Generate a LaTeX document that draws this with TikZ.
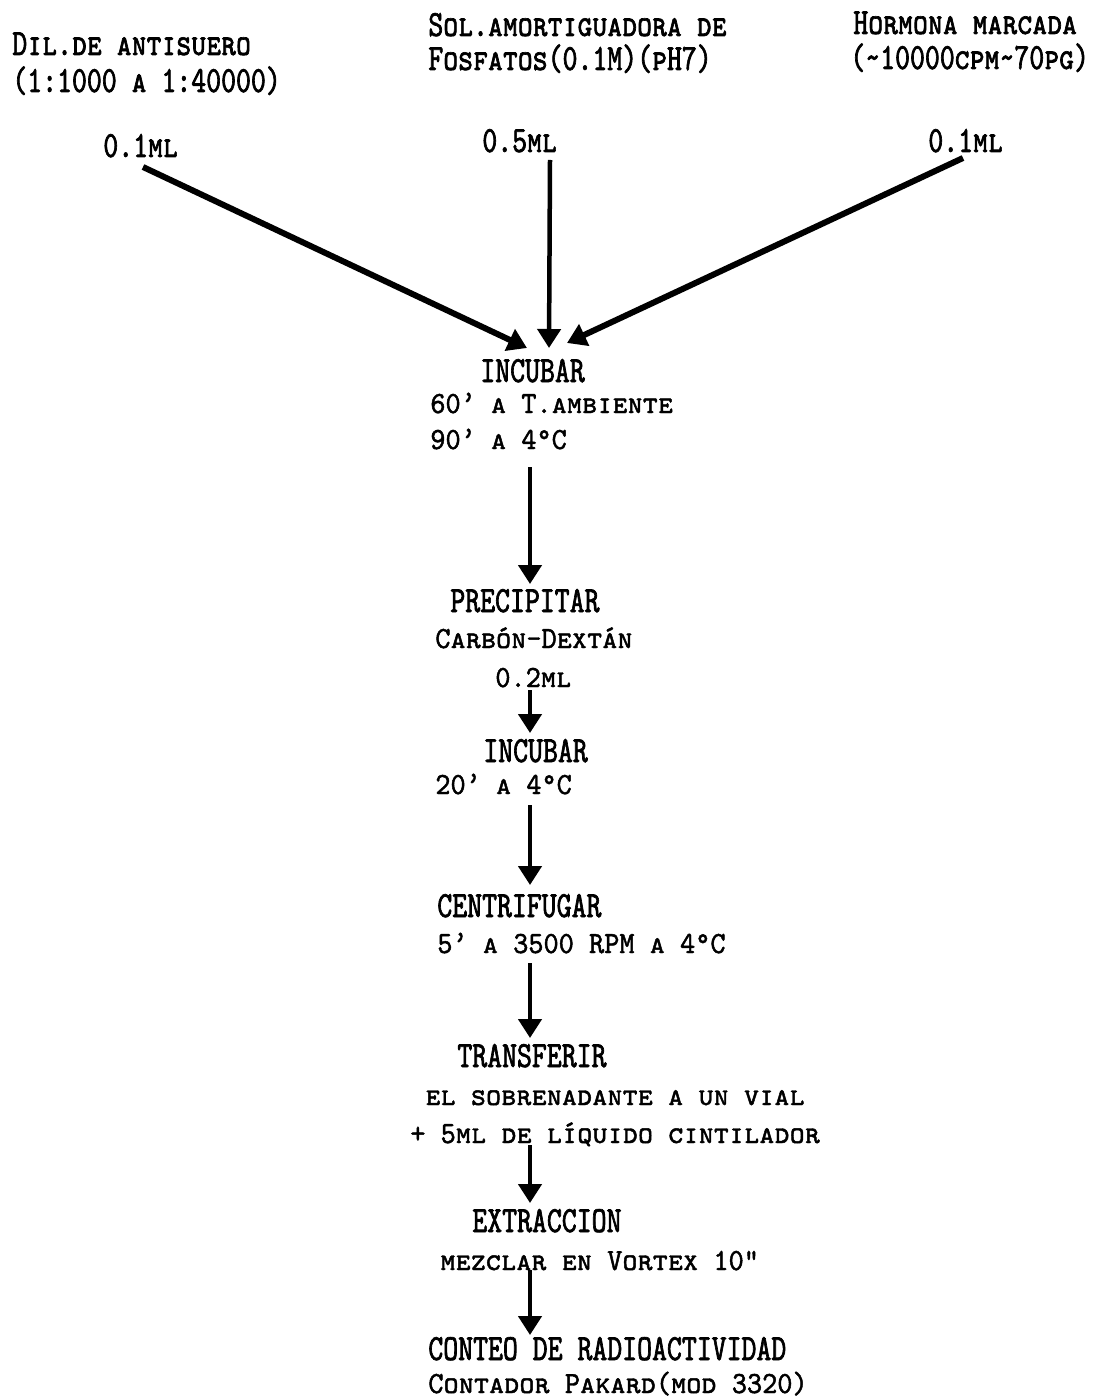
\documentclass[tikz,border=0pt]{standalone}
\usepackage{fontspec}
\usetikzlibrary{arrows.meta,calc}
\newfontfamily\twbig{lmmono10-regular.otf}[FakeStretch=0.77,FakeBold=1.8,
  SmallCapsFont=lmmonocaps10-regular.otf,SmallCapsFeatures={FakeStretch=0.77,FakeBold=1.8}]
\newfontfamily\twsmall{lmmono10-regular.otf}[FakeStretch=0.94,FakeBold=1.5,
  SmallCapsFont=lmmonocaps10-regular.otf,SmallCapsFeatures={FakeStretch=0.94,FakeBold=1.5}]

\begin{document}
\begin{tikzpicture}[x=0.02cm, y=-0.02cm,
    line/.style={anchor=base west, inner sep=0pt},
    headline/.style={line, font=\fontsize{21}{24}\twbig\scshape},
    detail/.style={line, font=\fontsize{17.5}{20}\twsmall\scshape},
    flow/.style={-{Triangle[length=0.38cm,width=0.46cm]}, line width=0.09cm},
    feed/.style={flow, line width=0.12cm}]
    \useasboundingbox (0,0) rectangle (1097,1398);
    \coordinate (ax) at (530,0);
    % reagents
    \node[headline] (dil1) at (12,55) {Dil.de antisuero};
    \node[headline] (dil2) at (12,92) {(1:1000 a 1:40000)};
    \node[headline] (sol1) at (428,36) {Sol.amortiguadora de};
    \node[headline] (sol2) at (428,70) {Fosfatos(0.1M)(pH7)};
    \node[headline] (hor1) at (853,34) {Hormona marcada};
    \node[headline] (hor2) at (850,69) {(\textasciitilde10000cpm\textasciitilde70pg)};
    \node[headline] (volA) at (103,157) {0.1ml};
    \node[headline] (volB) at (482,152) {0.5ml};
    \node[headline] (volC) at (928,152) {0.1ml};
    % steps
    \node[headline] (incA) at (480,382) {INCUBAR};
    \node[detail] (incB) at (430,413) {60’ a T.ambiente};
    \node[detail] (incC) at (430,449) {90’ a 4°C};
    \node[headline] (preA) at (450,612) {PRECIPITAR};
    \node[detail] (preB) at (435,648) {Carbón-Dextán};
    \node[detail] (preC) at (495,687) {0.2ml};
    \node[headline] (inc2A) at (483,762) {INCUBAR};
    \node[detail] (inc2B) at (435,794) {20’ a 4°C};
    \node[headline] (cenA) at (437,917) {CENTRIFUGAR};
    \node[detail] (cenB) at (437,953) {5’ a 3500 RPM a 4°C};
    \node[headline] (traA) at (457,1067) {TRANSFERIR};
    \node[detail] (traB) at (425,1105) {el sobrenadante a un vial};
    \node[detail] (traC) at (410,1143) {+ 5ml de líquido cintilador};
    \node[headline] (extA) at (472,1232) {EXTRACCION};
    \node[detail] (extB) at (440,1270) {mezclar en Vortex 10”};
    \node[headline] (conA) at (428,1360) {CONTEO DE RADIOACTIVIDAD};
    \node[detail] (conB) at (428,1393) {Contador Pakard(mod 3320)};
    % arrows
    \draw[feed] ($(volA.base west)+(40,10)$) -- ($(incA.base west)+(47,-34)$);
    \draw[flow] ($(volB.base west)+(68,8)$) -- ($(incA.base west)+(69,-34)$);
    \draw[feed] ($(volC.base west)+(35,6)$) -- ($(incA.base west)+(87,-39)$);
    \draw[flow] ($(incC.base -| ax)+(0,18)$) -- ($(preA.base -| ax)+(0,-28)$);
    \draw[flow] ($(preC.base -| ax)+(0,3)$) -- ($(inc2A.base -| ax)+(0,-29)$);
    \draw[flow] ($(inc2B.base -| ax)+(0,11)$) -- ($(cenA.base -| ax)+(0,-32)$);
    \draw[flow] ($(cenB.base -| ax)+(0,10)$) -- ($(traA.base -| ax)+(0,-29)$);
    \draw[flow] ($(traC.base -| ax)+(0,2)$) -- ($(extA.base -| ax)+(0,-29)$);
    \draw[flow] ($(extB.base -| ax)+(0,0)$) -- ($(conA.base -| ax)+(0,-25)$);
\end{tikzpicture}
\end{document}
